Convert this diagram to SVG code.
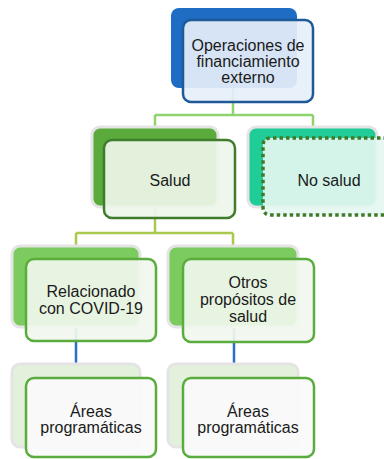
<svg xmlns="http://www.w3.org/2000/svg" width="384" height="459" viewBox="0 0 384 459">
<style>
text{font-family:"Liberation Sans",Arial,sans-serif;font-size:16px;fill:#1a1a1a;text-anchor:middle}
.bk{stroke:#e4e4e4;stroke-width:3}
.fr{stroke-width:2.5;fill-opacity:0.92}
.c1{fill:none;stroke:#8fd36c;stroke-width:2.5}
.c2{fill:none;stroke:#a9c84c;stroke-width:2.5}
.c3{fill:none;stroke:#2a6fc9;stroke-width:2.5}
</style>
<rect width="384" height="459" fill="#ffffff"/>
<g id="connectors">
<path class="c1" d="M233 88V115M155 115H313M155 115V127M313 115V127"/>
<path class="c2" d="M155 207V233M76 233H233M76 233V246M233 233V246"/>
<path class="c3" d="M76 327V364M234 327V364"/>
</g>
<g id="n_operaciones">
<rect x="171" y="8" width="126" height="80" rx="8" fill="#1e6cc4"/>
<rect class="fr" x="183" y="20" width="130" height="82" rx="8" fill="#e6eff9" stroke="#1e5a98"/>
<text x="248" y="51">Operaciones de</text>
<text x="248" y="67">financiamiento</text>
<text x="248" y="83">externo</text>
</g>
<g id="n_salud">
<rect class="bk" x="92" y="127" width="126" height="80" rx="8" fill="#5aab3c"/>
<rect class="fr" x="104" y="140" width="131" height="78" rx="8" fill="#eef5ea" stroke="#3f7c2c"/>
<text x="170" y="186">Salud</text>
</g>
<g id="n_nosalud">
<rect class="bk" x="248" y="127" width="129" height="80" rx="8" fill="#20cc98"/>
<path d="M400 138H271Q263 138 263 146V207Q263 215 271 215H400" fill="#e4f7f0" fill-opacity="0.92" stroke="#3e7a2a" stroke-width="3.5" stroke-dasharray="3.5 3"/>
<text x="329" y="186">No salud</text>
</g>
<g id="n_relacionado">
<rect class="bk" x="12" y="246" width="128" height="81" rx="8" fill="#7ccb5e"/>
<rect class="fr" x="26" y="259" width="130" height="82" rx="8" fill="#f1f7ee" stroke="#5aad3d"/>
<text x="91" y="297">Relacionado</text>
<text x="91" y="314">con COVID-19</text>
</g>
<g id="n_otros">
<rect class="bk" x="168" y="246" width="130" height="81" rx="8" fill="#7ccb5e"/>
<rect class="fr" x="183" y="259" width="131" height="83" rx="8" fill="#f1f7ee" stroke="#5aad3d"/>
<text x="248" y="288">Otros</text>
<text x="248" y="305">propósitos de</text>
<text x="248" y="322">salud</text>
</g>
<g id="n_areas1">
<rect class="bk" x="12" y="364" width="128" height="83" rx="8" fill="#e3f1dc"/>
<rect class="fr" x="26" y="378" width="130" height="79" rx="8" fill="#fafafa" stroke="#5aad3d"/>
<text x="91" y="417">Áreas</text>
<text x="91" y="433">programáticas</text>
</g>
<g id="n_areas2">
<rect class="bk" x="168" y="364" width="130" height="83" rx="8" fill="#e3f1dc"/>
<rect class="fr" x="183" y="378" width="131" height="79" rx="8" fill="#fafafa" stroke="#5aad3d"/>
<text x="248" y="417">Áreas</text>
<text x="248" y="433">programáticas</text>
</g>
</svg>
